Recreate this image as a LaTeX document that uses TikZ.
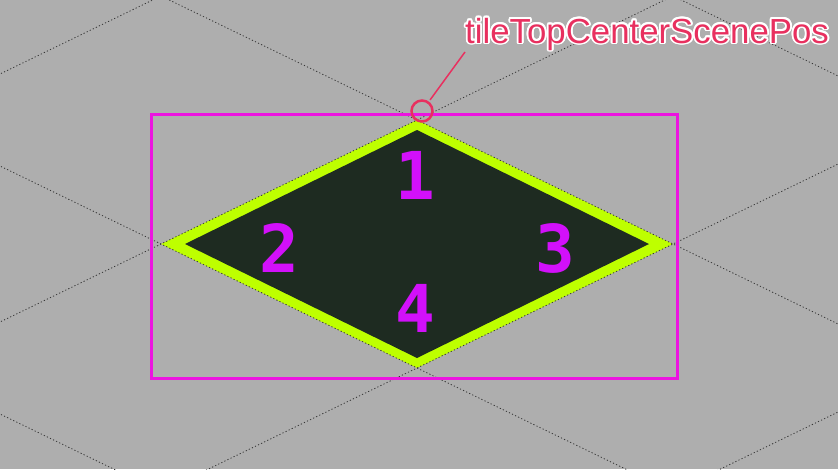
\documentclass[tikz,border=0pt]{standalone}
\usepackage{fontspec}
\setmainfont{Liberation Sans}
\newfontfamily\digitfont{DejaVu Sans Mono}
\definecolor{bgGray}{RGB}{174,174,174}
\definecolor{gridGray}{RGB}{55,55,55}
\definecolor{tileEdge}{RGB}{190,255,0}
\definecolor{tileDark}{RGB}{30,43,33}
\definecolor{boxMagenta}{RGB}{236,20,224}
\definecolor{numPurple}{RGB}{210,16,250}
\definecolor{calloutRed}{RGB}{232,48,95}
\begin{document}
\begin{tikzpicture}[x=1pt, y=-1pt,
    gridline/.style={gridGray, line width=0.8pt, dash pattern=on 1.2pt off 2.2pt},
    tilenum/.style={inner sep=0pt, anchor=base, text=numPurple,
        font=\digitfont\bfseries\fontsize{66}{66}\selectfont},
    callout/.style={inner sep=0pt, anchor=base west,
        font=\fontsize{34.8}{36}\selectfont}]
    \useasboundingbox (0,0) rectangle (838,469);
    \fill[bgGray] (0,0) rectangle (838,469);
    \begin{scope}
        \clip (0,0) rectangle (838,469);
        % tile corners in scene pixels
        \coordinate (tileTop) at (417,120);
        \coordinate (tileRight) at (673,244);
        \coordinate (tileBottom) at (417,368);
        \coordinate (tileLeft) at (161,244);
        \fill[tileEdge] (tileTop) -- (tileRight) -- (tileBottom) -- (tileLeft) -- cycle;
        \fill[tileDark] (417,130) -- (649,244) -- (417,358) -- (185,244) -- cycle;

        % iso grid, slope 124/256
        \foreach \k in {-1,0,1,2} {
            \draw[gridline] (-100,{-130.42+248*\k}) -- (940,{373.33+248*\k});
            \draw[gridline] (-100,{370.42+248*\k}) -- (940,{-133.33+248*\k});
        }

        \draw[boxMagenta, line width=3pt] (151,114) rectangle (677,378);

        \node[tilenum] (num1) at (415,199) {1};
        \node[tilenum] (num2) at (279,272) {2};
        \node[tilenum] (num3) at (555,272) {3};
        \node[tilenum] (num4) at (415,332) {4};

        \node[circle, draw=calloutRed, line width=2.5pt, minimum size=21pt, inner sep=0pt] (topMark) at (422,111) {};
        % white outline round the label
        \foreach \a in {0,22.5,...,337.5}
            \node[callout, text=white, shift={(\a:1.8)}] at (465,43) {tileTopCenterScenePos};
        \node[callout, text=calloutRed] (posLabel) at (465,43) {tileTopCenterScenePos};
        \coordinate (leaderStart) at (465,52);
        \draw[calloutRed, line width=1.5pt, shorten >=2pt] (leaderStart) -- (topMark);
    \end{scope}
\end{tikzpicture}
\end{document}
